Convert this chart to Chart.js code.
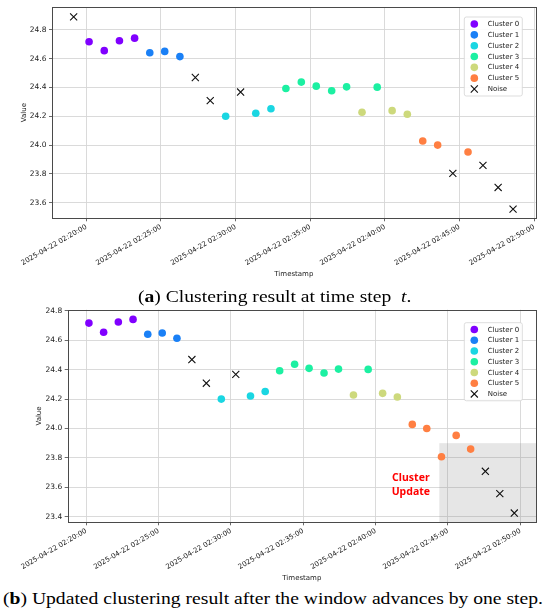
<!DOCTYPE html>
<html><head><meta charset="utf-8">
<script src="https://cdn.jsdelivr.net/npm/chart.js@4.4.1/dist/chart.umd.min.js"></script>
<style>
html,body{margin:0;padding:0;background:#fff;width:550px;height:615px;overflow:hidden;position:relative;}
canvas{position:absolute;left:0;}
#cA{top:0;}
#cB{top:300px;}
.cap{position:absolute;white-space:nowrap;font-family:'Liberation Serif','DejaVu Serif',serif;font-size:17.5px;line-height:1;color:#000;transform-origin:0 0;}
</style></head>
<body>
<canvas id="cA" width="550" height="280"></canvas>
<canvas id="cB" width="550" height="283"></canvas>
<div class="cap" id="capA">(<b>a</b>) Clustering result at time step&nbsp; <i>t</i>.<span class="bl" style="display:inline-block;width:0;height:0;vertical-align:baseline"></span></div>
<div class="cap" id="capB">(<b>b</b>) Updated clustering result after the window advances by one step.<span class="bl" style="display:inline-block;width:0;height:0;vertical-align:baseline"></span></div>
<script>
// ---------------- DATA ----------------
const clusterNames = ['Cluster 0','Cluster 1','Cluster 2','Cluster 3','Cluster 4','Cluster 5'];
const noiseName = 'Noise';
const clusterColors = ['#8000ff','#1a80f6','#1ad6e2','#1cf0a2','#cdd97c','#ff7f42'];

const timestampsA = [
 '2025-04-22 02:19:09','2025-04-22 02:20:11','2025-04-22 02:21:12','2025-04-22 02:22:13','2025-04-22 02:23:14',
 '2025-04-22 02:24:15','2025-04-22 02:25:15','2025-04-22 02:26:16','2025-04-22 02:27:18','2025-04-22 02:28:18',
 '2025-04-22 02:29:20','2025-04-22 02:30:20','2025-04-22 02:31:21','2025-04-22 02:32:22','2025-04-22 02:33:22',
 '2025-04-22 02:34:24','2025-04-22 02:35:24','2025-04-22 02:36:26','2025-04-22 02:37:26','2025-04-22 02:38:28',
 '2025-04-22 02:39:29','2025-04-22 02:40:29','2025-04-22 02:41:30','2025-04-22 02:42:32','2025-04-22 02:43:32',
 '2025-04-22 02:44:33','2025-04-22 02:45:34','2025-04-22 02:46:34','2025-04-22 02:47:35','2025-04-22 02:48:35'];
const valuesA = [24.89,24.717,24.655,24.724,24.742,24.641,24.65,24.614,24.469,24.308,
 24.20,24.368,24.221,24.252,24.393,24.437,24.409,24.377,24.404,24.228,
 24.402,24.239,24.214,24.028,24.00,23.804,23.952,23.859,23.706,23.556];
const clusterA = [-1,0,0,0,0,1,1,1,-1,-1,2,-1,2,2,3,3,3,3,3,4,3,4,4,5,5,-1,5,-1,-1,-1];

const timestampsB = [
 '2025-04-22 02:20:11','2025-04-22 02:21:12','2025-04-22 02:22:13','2025-04-22 02:23:14',
 '2025-04-22 02:24:15','2025-04-22 02:25:15','2025-04-22 02:26:16','2025-04-22 02:27:18','2025-04-22 02:28:18',
 '2025-04-22 02:29:20','2025-04-22 02:30:20','2025-04-22 02:31:21','2025-04-22 02:32:22','2025-04-22 02:33:22',
 '2025-04-22 02:34:24','2025-04-22 02:35:24','2025-04-22 02:36:26','2025-04-22 02:37:26','2025-04-22 02:38:28',
 '2025-04-22 02:39:29','2025-04-22 02:40:29','2025-04-22 02:41:30','2025-04-22 02:42:32','2025-04-22 02:43:32',
 '2025-04-22 02:44:33','2025-04-22 02:45:34','2025-04-22 02:46:34','2025-04-22 02:47:35','2025-04-22 02:48:35',
 '2025-04-22 02:49:35'];
const valuesB = [24.717,24.655,24.724,24.742,24.641,24.65,24.614,24.469,24.308,
 24.20,24.368,24.221,24.252,24.393,24.437,24.409,24.377,24.404,24.228,
 24.402,24.239,24.214,24.028,24.00,23.808,23.953,23.860,23.709,23.557,23.425];
const clusterB = [0,0,0,0,1,1,1,-1,-1,2,-1,2,2,3,3,3,3,3,4,3,4,4,5,5,5,5,5,-1,-1,-1];

const xTickLabels = ['2025-04-22 02:20:00','2025-04-22 02:25:00','2025-04-22 02:30:00','2025-04-22 02:35:00',
 '2025-04-22 02:40:00','2025-04-22 02:45:00','2025-04-22 02:50:00'];
const yTicksA = [23.6,23.8,24.0,24.2,24.4,24.6,24.8];
const yTicksB = [23.4,23.6,23.8,24.0,24.2,24.4,24.6,24.8];

const xRangeA = ['2025-04-22 02:17:42','2025-04-22 02:50:06'];
const yRangeA = [23.492,24.958];
const xRangeB = ['2025-04-22 02:18:43','2025-04-22 02:51:05'];
const yRangeB = [23.362,24.808];

// update region (b)
const updateBoxX = ['2025-04-22 02:44:24','2025-04-22 02:53:00'];
const updateBoxY = [23.30,23.90];
const updateText = ['Cluster','Update'];
const updateTextAt = ['2025-04-22 02:42:26', 23.616];

const captionA = 'Clustering result at time step';
// ---------------------------------------

function toMin(s){ const t = s.split(' ')[1].split(':').map(Number); return (t[0]-2)*60 + t[1] + t[2]/60; }

Chart.defaults.font.family = "'DejaVu Sans', sans-serif";
Chart.defaults.color = '#222';

function buildDatasets(ts, vals, labels){
  const ds = clusterNames.map((name,k)=>({
    label:name, data:[], pointStyle:'circle', pointRadius:3.8, pointHoverRadius:3.8,
    pointBackgroundColor:clusterColors[k], pointBorderColor:clusterColors[k], pointBorderWidth:0,
    backgroundColor:clusterColors[k], borderColor:clusterColors[k], showLine:false
  }));
  const noise = {label:noiseName, data:[], pointStyle:'crossRot', pointRadius:5, pointHoverRadius:5,
    pointBackgroundColor:'rgba(0,0,0,0)', pointBorderColor:'#111', pointBorderWidth:1.1,
    backgroundColor:'rgba(0,0,0,0)', borderColor:'#111', showLine:false};
  ts.forEach((t,i)=>{ const p={x:toMin(t), y:vals[i]}; (labels[i]<0?noise:ds[labels[i]]).data.push(p); });
  return [...ds, noise];
}

function legendPlugin(pos){
  return {id:'clusterLegend', afterDraw(chart){
    const {ctx, chartArea} = chart; const items = chart.data.datasets;
    const x0 = chartArea.right - pos.right - pos.width;
    const y0 = chartArea.top + pos.top;
    const h = pos.pad*2 + items.length*pos.rowH;
    ctx.save();
    ctx.beginPath();
    if (ctx.roundRect) ctx.roundRect(x0, y0, pos.width, h, 2); else ctx.rect(x0,y0,pos.width,h);
    ctx.fillStyle='rgba(255,255,255,0.92)'; ctx.fill();
    ctx.strokeStyle='#d4d4d4'; ctx.lineWidth=0.8; ctx.stroke();
    items.forEach((ds,i)=>{
      const cy = y0 + pos.pad + pos.rowH*(i+0.5);
      ctx.fillStyle = ds.pointBackgroundColor; ctx.strokeStyle = ds.pointBorderColor; ctx.lineWidth = ds.pointBorderWidth;
      Chart.helpers.drawPoint(ctx, {pointStyle:ds.pointStyle, radius:ds.pointRadius, rotation:0, borderWidth:ds.pointBorderWidth}, x0+pos.markerX, cy);
      ctx.fillStyle='#222'; ctx.font="7px 'DejaVu Sans'"; ctx.textBaseline='middle'; ctx.textAlign='left';
      ctx.fillText(ds.label, x0+pos.textX, cy+0.3);
    });
    ctx.restore();
  }};
}
const spinePlugin = {id:'spines', afterDatasetsDraw(chart){
  const {ctx, chartArea:a} = chart; ctx.save(); ctx.strokeStyle='#4a4a4a'; ctx.lineWidth=1;
  ctx.strokeRect(Math.round(a.left)+0.5, Math.round(a.top)+0.5, Math.round(a.right)-Math.round(a.left), Math.round(a.bottom)-Math.round(a.top));
  ctx.restore();
}};
const updateBoxPlugin = {id:'updateBox',
  beforeDatasetsDraw(chart){
    const {ctx, chartArea:a, scales:{x,y}} = chart;
    const l = x.getPixelForValue(toMin(updateBoxX[0])), r = x.getPixelForValue(toMin(updateBoxX[1]));
    const t = y.getPixelForValue(updateBoxY[1]), b = y.getPixelForValue(updateBoxY[0]);
    ctx.save(); ctx.beginPath(); ctx.rect(a.left,a.top,a.right-a.left,a.bottom-a.top); ctx.clip();
    ctx.fillStyle='rgba(128,128,128,0.2)'; ctx.fillRect(l,t,r-l,b-t); ctx.restore();
  },
  afterDatasetsDraw(chart){
    const {ctx, scales:{x,y}} = chart;
    const cx = x.getPixelForValue(toMin(updateTextAt[0])), cy = y.getPixelForValue(updateTextAt[1]);
    ctx.save(); ctx.fillStyle='#ff0000'; ctx.font="bold 10.5px 'Noto Sans', sans-serif";
    ctx.textAlign='center'; ctx.textBaseline='middle';
    const lh = 14; const n = updateText.length;
    updateText.forEach((s,i)=>ctx.fillText(s, cx, cy + (i-(n-1)/2)*lh));
    ctx.restore();
  }};

function makeChart(id, o){
  const xTickVals = xTickLabels.map(toMin);
  return new Chart(document.getElementById(id), {
    type:'scatter',
    data:{datasets: buildDatasets(o.ts, o.vals, o.labels)},
    options:{
      responsive:false, animation:false, events:[],
      layout:{padding:o.padding},
      plugins:{legend:{display:false}, tooltip:{enabled:false}},
      scales:{
        x:{type:'linear', position:'bottom', bounds:'data', min:toMin(o.xRange[0]), max:toMin(o.xRange[1]),
          afterBuildTicks:(s)=>{ s.ticks = xTickVals.map(v=>({value:v})); },
          afterFit:(s)=>{ s.height = o.xAxisH; },
          ticks:{autoSkip:false, minRotation:30, maxRotation:30, padding:1.5, font:{size:7}, color:'#222',
            callback:(v,i)=>xTickLabels[i]},
          grid:{color:'#d6d6d6', lineWidth:0.9, tickLength:3, tickColor:'#444', tickWidth:0.8},
          border:{display:false},
          title:{display:true, text:'Timestamp', font:{size:7}, color:'#222', padding:0}
        },
        y:{type:'linear', position:'left', bounds:'data', min:o.yRange[0], max:o.yRange[1],
          afterBuildTicks:(s)=>{ s.ticks = o.yTicks.map(v=>({value:v})); },
          afterFit:(s)=>{ s.width = o.yAxisW; },
          ticks:{padding:2.5, font:{size:7.5}, color:'#222', callback:(v)=>Number(v).toFixed(1)},
          grid:{color:'#d6d6d6', lineWidth:0.9, tickLength:3, tickColor:'#444', tickWidth:0.8},
          border:{display:false},
          title:{display:true, text:'Value', font:{size:7}, color:'#222', padding:{top:o.yTitlePad, bottom:0}}
        }
      }
    },
    plugins:[spinePlugin, legendPlugin(o.legend)].concat(o.extra||[])
  });
}

makeChart('cA', {ts:timestampsA, vals:valuesA, labels:clusterA, xRange:xRangeA, yRange:yRangeA, yTicks:yTicksA,
  padding:{left:0, top:5.3, right:14.3, bottom:1.7}, xAxisH:60, yAxisW:52, yTitlePad:19.8,
  legend:{top:10, right:13.4, width:58, rowH:10.83, pad:1.6, markerX:10, textX:23.4}});
makeChart('cB', {ts:timestampsB, vals:valuesB, labels:clusterB, xRange:xRangeB, yRange:yRangeB, yTicks:yTicksB,
  padding:{left:0, top:9.7, right:14, bottom:0.7}, xAxisH:60, yAxisW:67.7, yTitlePad:35,
  legend:{top:13, right:13.7, width:58, rowH:10.75, pad:1.4, markerX:10, textX:23.4}, extra:[updateBoxPlugin]});

function fitCaption(id, left, right, baseline){
  const el = document.getElementById(id);
  el.style.left = left+'px'; el.style.top = '0px';
  const r = el.getBoundingClientRect();
  const bl = el.querySelector('.bl').getBoundingClientRect().top - r.top;
  el.style.top = (baseline - bl)+'px';
  el.style.transform = 'scaleX('+((right-left)/r.width)+')';
}
fitCaption('capA', 138.3, 411.7, 301.7);
fitCaption('capB', 3.3, 543.3, 604.3);
</script>
</body></html>
